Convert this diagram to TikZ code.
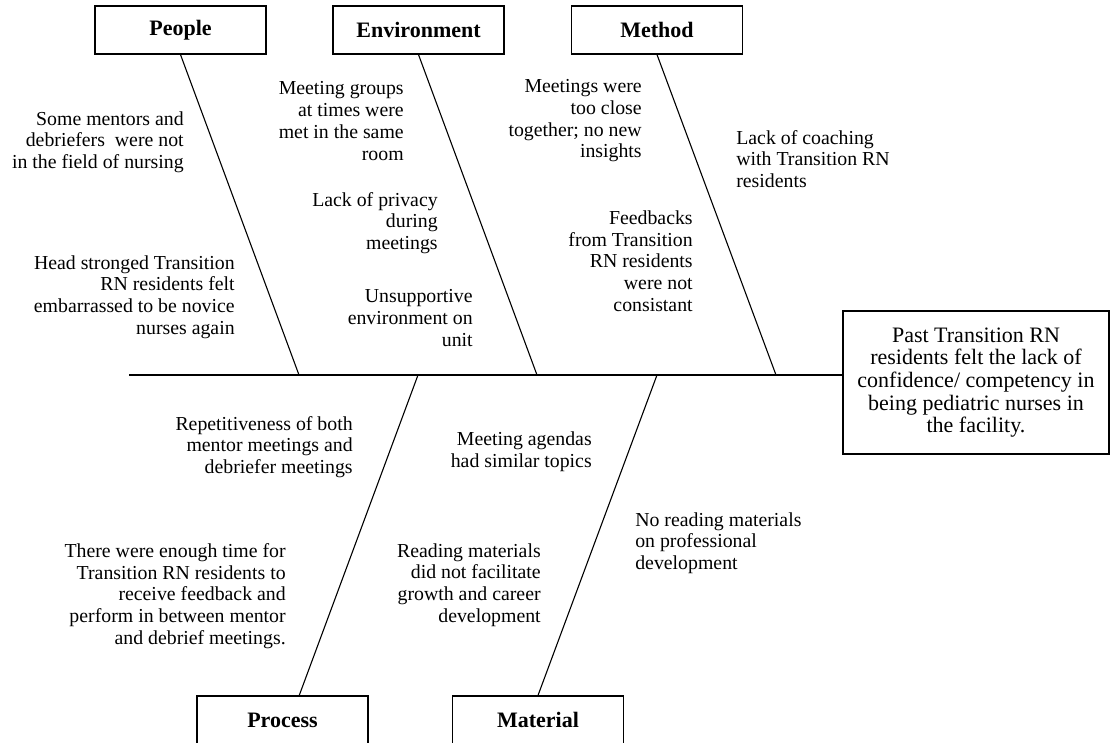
\documentclass[tikz,border=0pt]{standalone}
\usepackage{fontspec}
\setmainfont{Liberation Serif}
\usetikzlibrary{positioning}
\def\upx{0.636pt}
\tikzset{
    catbox/.style={draw, line width=0.8pt, minimum width={171*\upx}, minimum height={48*\upx}, inner sep=0pt,
        font=\fontsize{14}{16}\selectfont\bfseries},
    effbox/.style={draw, line width=0.8pt, minimum width={266*\upx}, minimum height={143*\upx}, inner sep=0pt,
        align=center, font=\fontsize{14}{14.4}\selectfont},
    causel/.style={inner sep=0pt, anchor=east, align=right, font=\fontsize{12.6}{13.8}\selectfont},
    causer/.style={inner sep=0pt, anchor=west, align=left, font=\fontsize{12.6}{13.8}\selectfont},
    bone/.style={line width=0.7pt}
}
\begin{document}
\begin{tikzpicture}[x=\upx, y=-\upx]
    \clip (0,0) rectangle (1110,742);
    % category boxes
    \node[catbox] (people) at (180.5,30) {People};
    \node[catbox] (envir) at (418.5,30) {Environment};
    \node[catbox] (method) at (657,30) {Method};
    \node[catbox] (process) at (282.5,720) {Process};
    \node[catbox] (material) at (538,720) {Material};
    \node[effbox] (effect) at (976,382.5) {Past Transition RN\\residents felt the lack of\\confidence/ competency in\\being pediatric nurses in\\the facility.};
    % spine and bones
    \coordinate (tail) at (129,375);
    \coordinate (pS) at (299,375);
    \coordinate (eS) at (537,375);
    \coordinate (mS) at (776,375);
    \coordinate (prS) at (418,375);
    \coordinate (maS) at (657,375);
    \coordinate (prB) at (299,696);
    \draw[bone] (tail) -- (tail -| effect.west);
    \draw[bone] (people.south) -- (pS);
    \draw[bone] (envir.south) -- (eS);
    \draw[bone] (method.south) -- (mS);
    \draw[bone] (prS) -- (prB);
    \draw[bone] (maS) -- (material.north);
    % causes
    \node[causel] (c1) at (184,142) {Some mentors and\\debriefers\ \ were not\\in the field of nursing};
    \node[causel] (c2) at (235,297) {Head stronged Transition\\RN residents felt\\embarrassed to be novice\\nurses again};
    \node[causel] (c3) at (404,121) {Meeting groups\\at times were\\met in the same\\room};
    \node[causel] (c4) at (438,223) {Lack of privacy\\during\\meetings};
    \node[causel] (c5) at (473,318) {Unsupportive\\environment on\\unit};
    \node[causel] (c6) at (642,121) {Meetings were\\too close\\together; no new\\insights};
    \node[causer] (c7) at (736,159) {Lack of coaching\\with Transition RN\\residents};
    \node[causel] (c8) at (693,261) {Feedbacks\\from Transition\\RN residents\\were not\\consistant};
    \node[causel] (c9) at (353,447) {Repetitiveness of both\\mentor meetings and\\debriefer meetings};
    \node[causel] (c10) at (592,452) {Meeting agendas\\had similar topics};
    \node[causer] (c11) at (635,543) {No reading materials\\on professional\\development};
    \node[causel] (c12) at (286,596) {There were enough time for\\Transition RN residents to\\receive feedback and\\perform in between mentor\\and debrief meetings.};
    \node[causel] (c13) at (541,585) {Reading materials\\did not facilitate\\growth and career\\development};
\end{tikzpicture}
\end{document}
